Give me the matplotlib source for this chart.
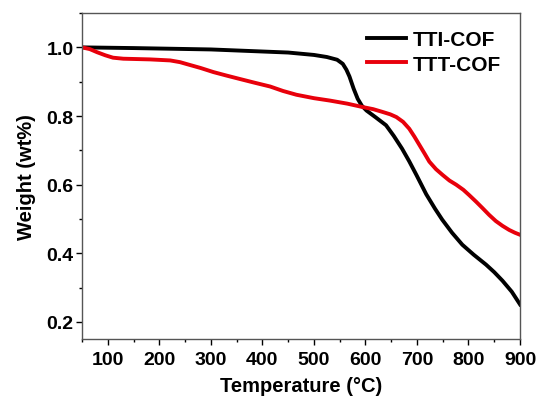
import numpy as np
import matplotlib
matplotlib.use("Agg")
import matplotlib.pyplot as plt
from matplotlib.ticker import MultipleLocator

plt.rcParams['font.family'] = ['Liberation Sans', 'DejaVu Sans']
plt.rcParams['font.weight'] = 'bold'

# TTI-COF
tti_t = [50, 150, 300, 450, 500, 525, 545, 556, 563, 569, 577, 585, 593, 602, 620, 640,
         655, 671, 685, 699, 718, 735, 749, 768, 788, 810, 834, 850, 866, 884, 900]
tti_w = [1.0, 0.998, 0.994, 0.985, 0.978, 0.972, 0.964, 0.952, 0.935, 0.915, 0.88, 0.85,
         0.83, 0.816, 0.796, 0.773, 0.742, 0.705, 0.668, 0.628, 0.572, 0.53, 0.498,
         0.46, 0.425, 0.396, 0.367, 0.345, 0.32, 0.288, 0.251]

# TTT-COF
ttt_t = [50, 65, 79, 95, 110, 130, 182, 221, 240, 254, 280, 305, 330, 356, 385, 415, 440,
         466, 500, 531, 565, 595, 615, 633, 648, 660, 673, 685, 695, 705, 715, 724, 737,
         750, 763, 776, 790, 801, 815, 827, 840, 853, 866, 879, 890, 900]
ttt_w = [1.0, 0.995, 0.986, 0.977, 0.970, 0.967, 0.965, 0.962, 0.957, 0.951, 0.94, 0.928,
         0.918, 0.908, 0.897, 0.886, 0.873, 0.862, 0.852, 0.845, 0.836, 0.826, 0.82,
         0.812, 0.805, 0.797, 0.783, 0.763, 0.74, 0.715, 0.69, 0.667, 0.645, 0.628,
         0.612, 0.6, 0.585, 0.57, 0.55, 0.532, 0.512, 0.494, 0.48, 0.468, 0.46, 0.454]

fig = plt.figure(figsize=(5.4, 4.02), dpi=100)
ax = fig.add_axes([0.152, 0.154, 0.811, 0.811])

ax.plot(tti_t, tti_w, color='black', linewidth=2.8, label='TTI-COF')
ax.plot(ttt_t, ttt_w, color='#e8000b', linewidth=2.8, label='TTT-COF')

ax.set_xlim(50, 900)
ax.set_ylim(0.15, 1.1)
ax.xaxis.set_major_locator(MultipleLocator(100))
ax.xaxis.set_minor_locator(MultipleLocator(50))
ax.yaxis.set_major_locator(MultipleLocator(0.2))
ax.yaxis.set_minor_locator(MultipleLocator(0.1))
ax.tick_params(which='major', direction='out', length=4, width=1, labelsize=14)
ax.tick_params(axis='x', which='major', pad=4.5)
ax.tick_params(axis='y', which='major', pad=2)
ax.tick_params(which='minor', direction='out', length=2.5, width=1)
for lab in ax.get_xticklabels() + ax.get_yticklabels():
    lab.set_fontweight('bold')
for s in ax.spines.values():
    s.set_color('#555555')
    s.set_linewidth(1)

ax.set_xlabel('Temperature (°C)', fontsize=14.5, fontweight='bold', labelpad=6)
ax.set_ylabel('Weight (wt%)', fontsize=14.5, fontweight='bold', labelpad=8)

leg = ax.legend(loc='upper right', frameon=False, fontsize=15, handlelength=1.9,
                handletextpad=0.3, borderaxespad=0.2, labelspacing=0.25,
                bbox_to_anchor=(0.985, 0.985))
for t in leg.get_texts():
    t.set_fontweight('bold')

fig.savefig('out.png', dpi=100)
